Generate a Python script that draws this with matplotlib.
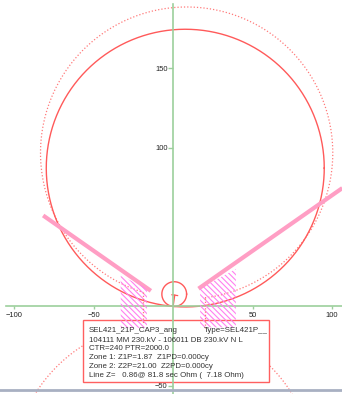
import numpy as np
import matplotlib
matplotlib.use("Agg")
import matplotlib.pyplot as plt
from matplotlib.patches import Polygon, Rectangle

plt.rcParams['font.family'] = ['Liberation Sans', 'DejaVu Sans']
plt.rcParams['hatch.linewidth'] = 0.8

# Relay settings (secondary ohms) and instrument transformer ratios
ctr = 240
ptr = 2000.0
z1p = 1.87
z2p = 21.00
line_z_sec = 0.86
line_ang = 81.8
mho_ang = 85.0

# Memory-polarised expansion of the zone 2 characteristic (primary ohms)
exp_upper_center = (8.5, 96.7)
exp_upper_radius = 92.0
exp_lower_center = (-6.0, -105.0)
exp_lower_radius = 95.0
exp_cut_x = [-19.0, 20.0]

# Load encroachment blinders: angle (deg), start and end reach (ohm)
load_angles = [145.0, 35.0]
load_r_start = [17.1, 19.5]
load_r_end = [99.9, 130.0]

# Load-encroachment blocking areas (R, X vertices)
left_block_r = [-33.0, -16.5, -16.5, -33.0]
left_block_x = [19.3, 11.4, -13.5, -13.5]
right_block_r = [17.0, 39.5, 39.5, 17.0]
right_block_x = [11.4, 23.6, -13.2, -13.2]

x_ticks = [-100, -50, 50, 100]
y_ticks = [-50, 100, 150]

info_lines = [
    "104111 MM 230.kV - 106011 DB 230.kV N L",
    "CTR=240 PTR=2000.0",
    "Zone 1: Z1P=1.87  Z1PD=0.000cy",
    "Zone 2: Z2P=21.00  Z2PD=0.000cy",
    "Line Z=   0.86@ 81.8 sec Ohm (  7.18 Ohm)",
]

ratio = ptr / ctr

fig = plt.figure(figsize=(3.42, 3.94), dpi=100)
ax = fig.add_axes([0, 0, 1, 1])
ax.set_xlim(-109.0, 106.3)
ax.set_ylim(-55.2, 193.1)
ax.set_facecolor('white')

green = '#9ccf9c'
red = '#ff5a5a'
red_dot = '#ff7a7a'

# Axes through the origin
for side in ['top', 'right']:
    ax.spines[side].set_visible(False)
ax.spines['left'].set_position(('data', 0))
ax.spines['bottom'].set_position(('data', 0))
ax.spines['left'].set_color(green)
ax.spines['bottom'].set_color(green)
ax.spines['left'].set_linewidth(1.2)
ax.spines['bottom'].set_linewidth(1.2)
ax.spines['bottom'].set_bounds(-105, 106.3)
ax.spines['left'].set_bounds(-55.2, 190.5)
ax.set_xticks(x_ticks)
ax.set_yticks(y_ticks)
ax.tick_params(axis='x', direction='out', length=2.5, width=1, color=green,
               labelsize=5.4, pad=1.5, labelcolor='#222222')
ax.tick_params(axis='y', direction='out', length=3.5, width=1, color=green,
               labelsize=5.4, pad=0.5, labelcolor='#222222')
ax.spines['left'].set_zorder(6)
ax.spines['bottom'].set_zorder(6)

# Frame line along the bottom of the plot area
ax.axhline(-52.7, color='#a8b0c2', lw=2.0, zorder=7)

t = np.linspace(0, 2 * np.pi, 720)

# Zone 1 and zone 2 mho circles
for zp in [z1p, z2p]:
    reach = zp * ratio
    rad = reach / 2
    cx = rad * np.cos(np.radians(mho_ang))
    cy = rad * np.sin(np.radians(mho_ang))
    ax.plot(cx + rad * np.cos(t), cy + rad * np.sin(t), color=red, lw=1.0, zorder=4)

# Expanded characteristic (dotted)
ucx, ucy = exp_upper_center
a_right = -np.degrees(np.arccos((exp_cut_x[1] - ucx) / exp_upper_radius))
a_left = 360 - np.degrees(np.arccos((exp_cut_x[0] - ucx) / exp_upper_radius))
ang = np.radians(np.linspace(a_right, a_left, 600))
ax.plot(ucx + exp_upper_radius * np.cos(ang), ucy + exp_upper_radius * np.sin(ang),
        color=red_dot, lw=0.9, ls=(0, (1, 1.6)), zorder=3)

lcx, lcy = exp_lower_center
b_left = np.degrees(np.arccos((exp_cut_x[0] - lcx) / exp_lower_radius))
b_right = np.degrees(np.arccos((exp_cut_x[1] - lcx) / exp_lower_radius))
for a0, a1 in [(b_left, 180.0), (0.0, b_right)]:
    ang = np.radians(np.linspace(a0, a1, 300))
    ax.plot(lcx + exp_lower_radius * np.cos(ang), lcy + exp_lower_radius * np.sin(ang),
            color=red_dot, lw=0.9, ls=(0, (1, 1.6)), zorder=3)

for xc in exp_cut_x:
    y_top = ucy - np.sqrt(exp_upper_radius ** 2 - (xc - ucx) ** 2)
    y_bot = lcy + np.sqrt(exp_lower_radius ** 2 - (xc - lcx) ** 2)
    ax.plot([xc, xc], [y_top, y_bot], color=red_dot, lw=0.9, ls=(0, (1, 1.6)), zorder=8.5)

# Line impedance marker
zl = line_z_sec * ratio
lx = zl * np.cos(np.radians(line_ang))
ly = zl * np.sin(np.radians(line_ang))
ax.plot([0, lx], [0, ly], color=red, lw=0.9, zorder=4)
px = -np.sin(np.radians(line_ang)) * 1.8
py = np.cos(np.radians(line_ang)) * 1.8
ax.plot([lx - px, lx + px], [ly - py, ly + py], color=red, lw=0.9, zorder=4)

# Load blinders
for a, r0, r1 in zip(load_angles, load_r_start, load_r_end):
    c, s = np.cos(np.radians(a)), np.sin(np.radians(a))
    ax.plot([r0 * c, r1 * c], [r0 * s, r1 * s], color='#ff9ec4', lw=3.0,
            solid_capstyle='butt', zorder=5)

# Blocking areas
for br, bx in [(left_block_r, left_block_x), (right_block_r, right_block_x)]:
    ax.add_patch(Polygon(np.column_stack([br, bx]), closed=True, facecolor='none',
                         edgecolor='#ff80f0', hatch='\\' * 6, lw=0, zorder=8))

# Settings text box
box = Rectangle((83 / 342, 1 - 382 / 394), (269 - 83) / 342, (382 - 320) / 394,
                transform=ax.transAxes, facecolor='white', edgecolor='#ff6060',
                lw=1.0, zorder=5.5)
ax.add_patch(box)
ax.text(89 / 342, 1 - 330.7 / 394, "SEL421_21P_CAP3_ang", transform=ax.transAxes,
        fontsize=5.7, va='center', ha='left', color='#333333', zorder=9)
ax.text(204 / 342, 1 - 330.7 / 394, "Type=SEL421P__", transform=ax.transAxes,
        fontsize=5.7, va='center', ha='left', color='#333333', zorder=9)
for i, line in enumerate(info_lines):
    yy = 340.0 + i * 8.8
    ax.text(89 / 342, 1 - yy / 394, line, transform=ax.transAxes,
            fontsize=5.7, va='center', ha='left', color='#333333', zorder=9)

fig.savefig('out.png', dpi=100)
